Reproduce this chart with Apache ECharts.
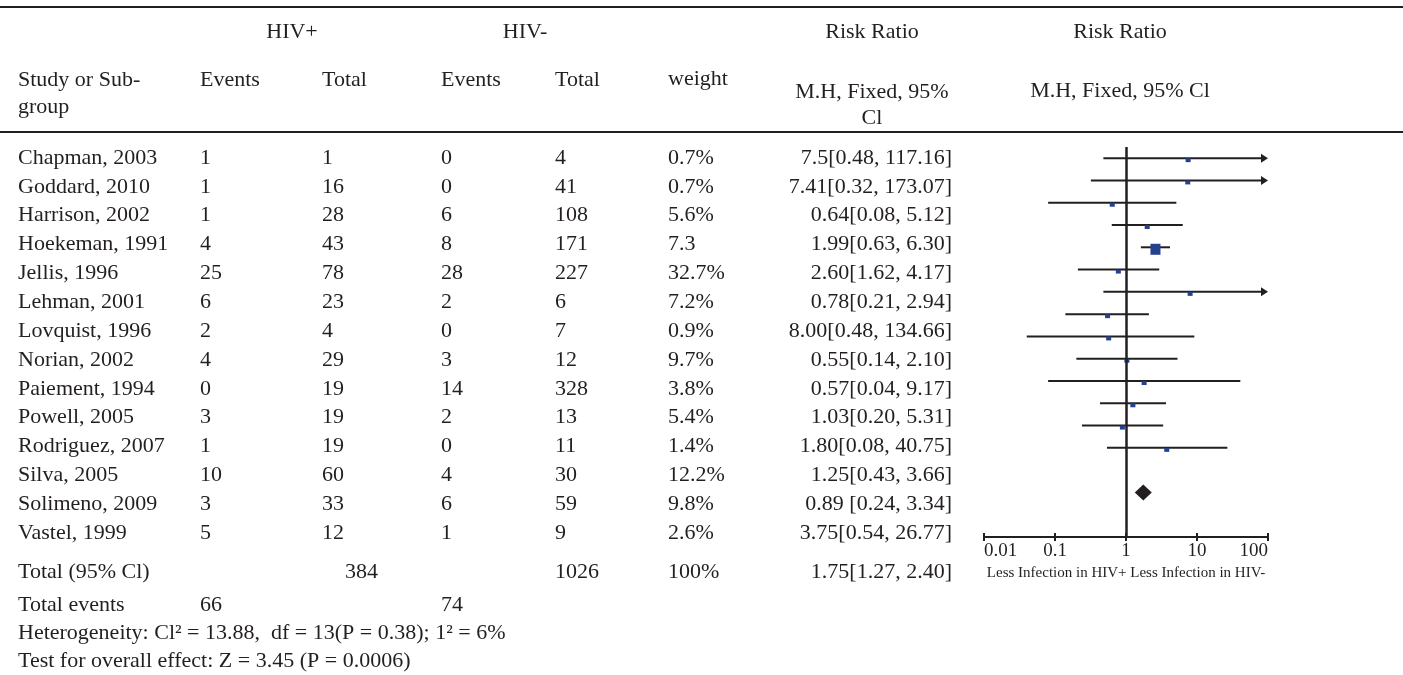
<!DOCTYPE html>
<html>
<head>
<meta charset="utf-8">
<script src="https://cdn.jsdelivr.net/npm/echarts@6/dist/echarts.min.js"></script>
<style>
  html, body { margin: 0; background: #fff; }
  #chart { width: 1403px; height: 675px; }
</style>
</head>
<body>
<div id="chart"></div>
<script>
// table data
const studies = ['Chapman, 2003', 'Goddard, 2010', 'Harrison, 2002', 'Hoekeman, 1991', 'Jellis, 1996',
  'Lehman, 2001', 'Lovquist, 1996', 'Norian, 2002', 'Paiement, 1994', 'Powell, 2005',
  'Rodriguez, 2007', 'Silva, 2005', 'Solimeno, 2009', 'Vastel, 1999']
const posEvents = [1, 1, 1, 4, 25, 6, 2, 4, 0, 3, 1, 10, 3, 5]
const posTotal = [1, 16, 28, 43, 78, 23, 4, 29, 19, 19, 19, 60, 33, 12]
const negEvents = [0, 0, 6, 8, 28, 2, 0, 3, 14, 2, 0, 4, 6, 1]
const negTotal = [4, 41, 108, 171, 227, 6, 7, 12, 328, 13, 11, 30, 59, 9]
const weightText = ['0.7%', '0.7%', '5.6%', '7.3', '32.7%', '7.2%', '0.9%', '9.7%', '3.8%', '5.4%', '1.4%', '12.2%', '9.8%', '2.6%']
const weights = [0.7, 0.7, 5.6, 7.3, 32.7, 7.2, 0.9, 9.7, 3.8, 5.4, 1.4, 12.2, 9.8, 2.6]
const rrText = ['7.5[0.48, 117.16]', '7.41[0.32, 173.07]', '0.64[0.08, 5.12]', '1.99[0.63, 6.30]',
  '2.60[1.62, 4.17]', '0.78[0.21, 2.94]', '8.00[0.48, 134.66]', '0.55[0.14, 2.10]', '0.57[0.04, 9.17]',
  '1.03[0.20, 5.31]', '1.80[0.08, 40.75]', '1.25[0.43, 3.66]', '0.89 [0.24, 3.34]', '3.75[0.54, 26.77]']

// forest plot values
const rr = [7.5, 7.41, 0.64, 1.99, 2.60, 0.78, 8.00, 0.55, 0.57, 1.03, 1.80, 1.25, 0.89, 3.75]
const rrLow = [0.48, 0.32, 0.08, 0.63, 1.62, 0.21, 0.48, 0.14, 0.04, 0.20, 0.08, 0.43, 0.24, 0.54]
const rrHigh = [117.16, 173.07, 5.12, 6.30, 4.17, 2.94, 134.66, 2.10, 9.17, 5.31, 40.75, 3.66, 3.34, 26.77]
const totalRR = 1.75

const INK = '#231f20'
const BLUE = '#24408e'
const FONT = '"Liberation Serif", "DejaVu Serif", serif'
const X_MAX = 100

// column layout
const COL = { name: 18, ev1: 200, tot1: 322, ev2: 441, tot2: 555, w: 668, rr: 952 }
const rowY = k => 158 + 28.85 * k

function txt(text, x, y, align, size) {
  return {
    type: 'text', x: x, y: y, silent: true,
    style: { text: text, fill: INK, fontSize: size || 22, fontFamily: FONT,
      align: align || 'left', verticalAlign: 'middle' }
  }
}

const graphics = [
  { type: 'rect', shape: { x: 0, y: 6, width: 1403, height: 2 }, style: { fill: INK }, silent: true },
  { type: 'rect', shape: { x: 0, y: 131, width: 1403, height: 2 }, style: { fill: INK }, silent: true },
  txt('HIV+', 292, 32, 'center'),
  txt('HIV-', 525, 32, 'center'),
  txt('Risk Ratio', 872, 32, 'center'),
  txt('Risk Ratio', 1120, 32, 'center'),
  txt('Study or Sub-', COL.name, 80),
  txt('group', COL.name, 107),
  txt('Events', COL.ev1, 80),
  txt('Total', COL.tot1, 80),
  txt('Events', COL.ev2, 80),
  txt('Total', COL.tot2, 80),
  txt('weight', COL.w, 79),
  txt('M.H, Fixed, 95%', 872, 92, 'center'),
  txt('Cl', 872, 118, 'center'),
  txt('M.H, Fixed, 95% Cl', 1120, 91, 'center')
]
studies.forEach((s, i) => {
  const y = rowY(i)
  graphics.push(
    txt(s, COL.name, y),
    txt(String(posEvents[i]), COL.ev1, y),
    txt(String(posTotal[i]), COL.tot1, y),
    txt(String(negEvents[i]), COL.ev2, y),
    txt(String(negTotal[i]), COL.tot2, y),
    txt(weightText[i], COL.w, y),
    txt(rrText[i], COL.rr, y, 'right')
  )
})
const sum = a => a.reduce((p, c) => p + c, 0)
graphics.push(
  txt('Total (95% Cl)', COL.name, 572),
  txt(String(sum(posTotal)), 345, 572),
  txt(String(sum(negTotal)), COL.tot2, 572),
  txt('100%', COL.w, 572),
  txt('1.75[1.27, 2.40]', COL.rr, 572, 'right'),
  txt('Total events', COL.name, 605),
  txt(String(sum(posEvents)), COL.ev1, 605),
  txt(String(sum(negEvents)), COL.ev2, 605),
  txt('Heterogeneity: Cl\u00b2 = 13.88,  df = 13(P = 0.38); 1\u00b2 = 6%', COL.name, 633),
  txt('Test for overall effect: Z = 3.45 (P = 0.0006)', COL.name, 661)
)

const chart = echarts.init(document.getElementById('chart'))
const logAxis = {
  type: 'log', logBase: 10, min: 0.01, max: 100,
  splitLine: { show: false }
}
chart.setOption({
  animation: false,
  backgroundColor: '#fff',
  grid: { left: 984, width: 284, top: 147, height: 390 },
  xAxis: [
    Object.assign({}, logAxis, {
      position: 'bottom',
      axisLine: { onZero: false, lineStyle: { color: INK, width: 2 } },
      axisTick: { length: 4, lineStyle: { color: INK, width: 2 } },
      axisLabel: {
        color: INK, fontSize: 19, fontFamily: FONT, margin: 5,
        alignMinLabel: 'left', alignMaxLabel: 'right',
        formatter: v => String(+Number(v).toPrecision(2))
      },
      name: 'Less Infection in HIV+ Less Infection in HIV-',
      nameLocation: 'middle', nameGap: 27,
      nameTextStyle: { color: INK, fontSize: 15, fontFamily: FONT }
    }),
    // second copy of the axis so the ticks cross the line
    Object.assign({}, logAxis, {
      position: 'bottom',
      axisLine: { show: false, onZero: false },
      axisTick: { inside: true, length: 4, lineStyle: { color: INK, width: 2 } },
      axisLabel: { show: false }
    })
  ],
  yAxis: { type: 'value', inverse: true, min: -0.5, max: 17, show: false },
  series: [
    {
      type: 'custom',
      clip: false,
      dimensions: ['low', 'high', 'row'],
      encode: { x: [0, 1], y: 2 },
      data: studies.map((s, i) => [rrLow[i], rrHigh[i], i]),
      renderItem: (params, api) => {
        const lo = api.value(0), hi = api.value(1), k = api.value(2)
        const a = api.coord([lo, k])
        const b = api.coord([Math.min(hi, X_MAX), k])
        const arrow = hi > X_MAX
        const children = [{
          type: 'line',
          shape: { x1: a[0], y1: a[1], x2: arrow ? b[0] - 4 : b[0], y2: b[1] },
          style: { stroke: INK, lineWidth: 2 }
        }]
        if (arrow) {
          children.push({
            type: 'polygon',
            shape: { points: [[b[0], b[1]], [b[0] - 7, b[1] - 4.5], [b[0] - 7, b[1] + 4.5]] },
            style: { fill: INK }
          })
        }
        return { type: 'group', children: children }
      }
    },
    {
      type: 'scatter',
      symbol: 'rect',
      symbolOffset: [0, 2],
      data: rr.map((v, i) => ({ value: [v, i], symbolSize: weights[i] > 20 ? [10, 11] : [5, 4] })),
      itemStyle: { color: BLUE, opacity: 1 },
      markLine: {
        silent: true, symbol: 'none',
        label: { show: false },
        lineStyle: { color: INK, width: 2.5, type: 'solid' },
        data: [{ xAxis: 1 }]
      }
    },
    {
      type: 'scatter',
      symbol: 'diamond',
      symbolSize: [17, 16],
      data: [[totalRR, 15]],
      itemStyle: { color: INK, opacity: 1 }
    }
  ],
  graphic: graphics
})
</script>
</body>
</html>
